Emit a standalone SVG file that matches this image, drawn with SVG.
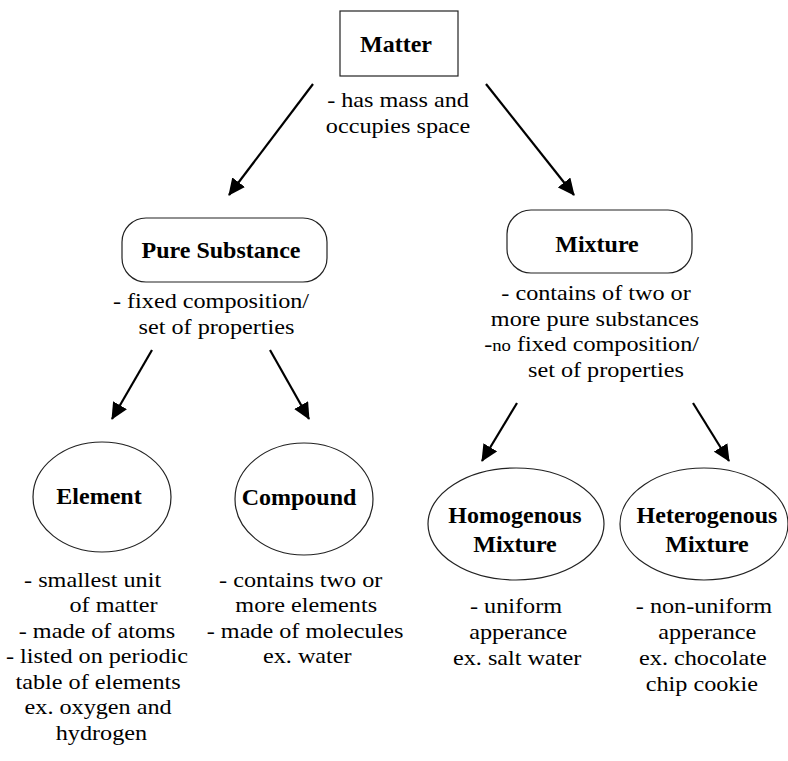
<svg xmlns="http://www.w3.org/2000/svg" width="788" height="761" viewBox="0 0 788 761">
<style>
.lbl{font-family:"Liberation Serif","Times New Roman",serif;font-weight:bold;font-size:24px;fill:#000;text-anchor:middle}
.txt{font-family:"Liberation Serif","Times New Roman",serif;font-size:22px;fill:#000;text-anchor:middle}
.shape{fill:#fff;stroke:#222;stroke-width:1.2}
.arr{stroke:#000;stroke-width:2.2;fill:none;marker-end:url(#ah)}
</style>
<defs>
<marker id="ah" markerUnits="userSpaceOnUse" markerWidth="18" markerHeight="16" refX="16" refY="8" orient="auto">
<path d="M0,0 L17,8 L0,16 Z" fill="#000"/>
</marker>
</defs>
<rect width="788" height="761" fill="#fff"/>
<g id="connectors">
<line class="arr" x1="313" y1="84" x2="229" y2="195"/>
<line class="arr" x1="486" y1="84" x2="574" y2="195"/>
<line class="arr" x1="152" y1="350" x2="112" y2="419"/>
<line class="arr" x1="270" y1="350" x2="309" y2="419"/>
<line class="arr" x1="517" y1="403" x2="482" y2="461"/>
<line class="arr" x1="693" y1="403" x2="729" y2="461"/>
</g>
<g id="matter">
<rect class="shape" x="340" y="11" width="118" height="65"/>
<text class="lbl" x="396" y="52">Matter</text>
<text class="txt" transform="translate(398,107) scale(1.1,1)"><tspan x="0">- has mass and</tspan><tspan x="0" dy="26">occupies space</tspan></text>
</g>
<g id="pure-substance">
<rect class="shape" x="122" y="218" width="205" height="64" rx="24" ry="24"/>
<text class="lbl" x="221" y="258">Pure Substance</text>
<text class="txt" transform="translate(211,308) scale(1.1,1)"><tspan x="0">- fixed composition/</tspan><tspan x="5" dy="26">set of properties</tspan></text>
</g>
<g id="mixture">
<rect class="shape" x="507" y="210" width="185" height="63" rx="24" ry="24"/>
<text class="lbl" x="597" y="252">Mixture</text>
<text class="txt" transform="translate(596,300) scale(1.1,1)"><tspan x="0">- contains of two or</tspan><tspan x="-1" dy="26">more pure substances</tspan><tspan x="-4" dy="25">-<tspan font-size="17">no</tspan> fixed composition/</tspan><tspan x="9" dy="26">set of properties</tspan></text>
</g>
<g id="element">
<ellipse class="shape" cx="102" cy="497" rx="69" ry="55"/>
<text class="lbl" x="99" y="504">Element</text>
<text class="txt" transform="translate(97,587) scale(1.1,1)"><tspan x="-4">- smallest unit</tspan><tspan x="15" dy="25.5">of matter</tspan><tspan x="0" dy="25.5">- made of atoms</tspan><tspan x="0" dy="25.5">- listed on periodic</tspan><tspan x="1" dy="25.5">table of elements</tspan><tspan x="1" dy="25.5">ex. oxygen and</tspan><tspan x="4" dy="25.5">hydrogen</tspan></text>
</g>
<g id="compound">
<ellipse class="shape" cx="304" cy="499" rx="69" ry="56"/>
<text class="lbl" x="299" y="505">Compound</text>
<text class="txt" transform="translate(304,587) scale(1.1,1)"><tspan x="-3">- contains two or</tspan><tspan x="2" dy="25.5">more elements</tspan><tspan x="1" dy="25.5">- made of molecules</tspan><tspan x="3" dy="25.5">ex. water</tspan></text>
</g>
<g id="homogenous">
<ellipse class="shape" cx="516" cy="524" rx="88" ry="56"/>
<text class="lbl" x="515" y="523">Homogenous</text>
<text class="lbl" x="515" y="552">Mixture</text>
<text class="txt" transform="translate(516,613) scale(1.1,1)"><tspan x="0">- uniform</tspan><tspan x="2" dy="26">apperance</tspan><tspan x="1" dy="26">ex. salt water</tspan></text>
</g>
<g id="heterogenous">
<ellipse class="shape" cx="704" cy="524" rx="84" ry="56"/>
<text class="lbl" x="707" y="523">Heterogenous</text>
<text class="lbl" x="707" y="552">Mixture</text>
<text class="txt" transform="translate(704,613) scale(1.1,1)"><tspan x="0">- non-uniform</tspan><tspan x="3" dy="26">apperance</tspan><tspan x="-1" dy="26">ex. chocolate</tspan><tspan x="-2" dy="26">chip cookie</tspan></text>
</g>
</svg>
